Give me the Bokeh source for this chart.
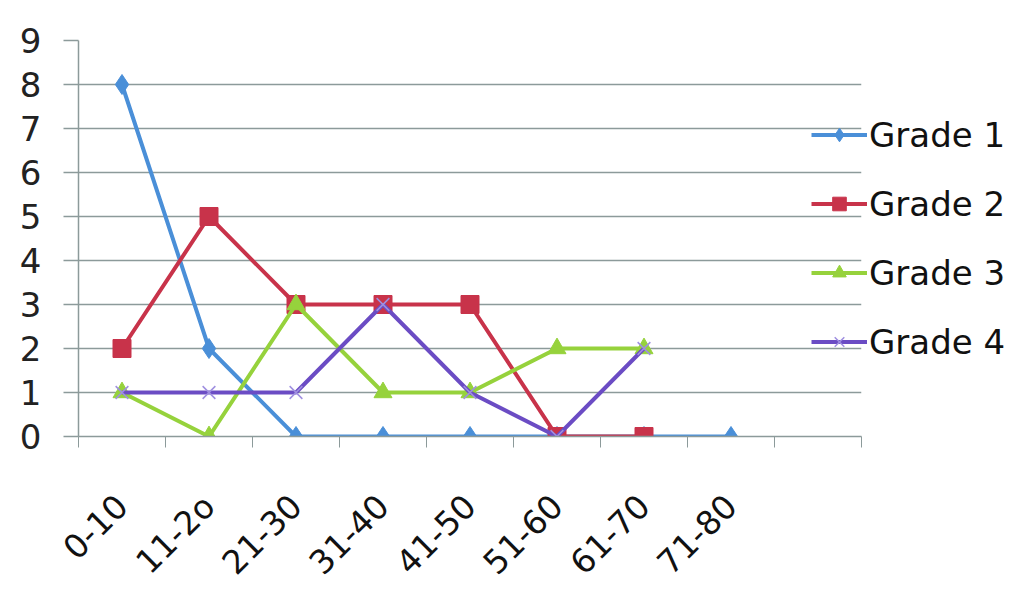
from bokeh.plotting import figure
from bokeh.models import FixedTicker, Legend, LegendItem
from bokeh.embed import file_html
from bokeh.resources import INLINE
import math

categories = ["0-10", "11-2o", "21-30", "31-40", "41-50", "51-60", "61-70", "71-80", ""]
grade1 = [8, 2, 0, 0, 0, 0, 0, 0]
grade2 = [2, 5, 3, 3, 3, 0, 0]
grade3 = [1, 0, 3, 1, 1, 2, 2]
grade4 = [1, 1, 1, 3, 1, 0, 2]
series_names = ["Grade 1", "Grade 2", "Grade 3", "Grade 4"]
y_ticks = list(range(0, 10))

FONT = "DejaVu Sans"
colors = ["#4A8FD8", "#C8334A", "#96D23C", "#6B4CC4"]
markers = ["diamond", "square", "triangle", "x"]
msizes = [20, 18, 18, 18]

p = figure(frame_width=783, frame_height=396, output_backend="svg", toolbar_location=None,
           x_range=(0, len(categories)), y_range=(0, 9),
           min_border_left=78, min_border_right=166, min_border_top=40, min_border_bottom=150)
p.outline_line_color = None
p.background_fill_color = "white"
p.border_fill_color = "white"

centers = [i + 0.5 for i in range(len(categories))]
p.xaxis.ticker = FixedTicker(ticks=centers, minor_ticks=list(range(len(categories) + 1)))
p.xaxis.major_label_overrides = {c: lab for c, lab in zip(centers, categories)}
p.xaxis.major_tick_out = 0
p.xaxis.major_tick_in = 0
p.xaxis.minor_tick_out = 11
p.xaxis.minor_tick_in = 0
p.xaxis.minor_tick_line_color = "#8C9A9A"
p.xaxis.axis_line_color = "#8C9A9A"
p.xaxis.axis_line_width = 1.5
p.xaxis.major_label_orientation = math.pi / 4
p.xaxis.major_label_text_font = FONT
p.xaxis.major_label_text_font_size = "33px"
p.xaxis.major_label_text_color = "#111111"
p.xaxis.major_label_standoff = 53
p.xgrid.grid_line_color = None

p.yaxis.ticker = FixedTicker(ticks=y_ticks)
p.yaxis.minor_tick_line_color = None
p.yaxis.major_tick_out = 15
p.yaxis.major_tick_in = 0
p.yaxis.major_tick_line_color = "#8C9A9A"
p.yaxis.major_tick_line_width = 1.5
p.yaxis.axis_line_color = "#8C9A9A"
p.yaxis.axis_line_width = 1.5
p.yaxis.major_label_text_font = FONT
p.yaxis.major_label_text_font_size = "34px"
p.yaxis.major_label_text_color = "#222222"
p.yaxis.major_label_standoff = 22
p.ygrid.grid_line_color = "#8C9A9A"
p.ygrid.grid_line_width = 1.5

items = []
for name, vals, col, mk, ms in zip(series_names, [grade1, grade2, grade3, grade4], colors, markers, msizes):
    xs = centers[:len(vals)]
    r1 = p.line(xs, vals, line_color=col, line_width=4)
    if mk == "x":
        r2 = p.scatter(xs, vals, marker=mk, size=ms, line_color="#9F8FE0", line_width=1.5)
    else:
        r2 = p.scatter(xs, vals, marker=mk, size=ms, fill_color=col, line_color=col)
    items.append(LegendItem(label=name, renderers=[r1, r2]))

legend = Legend(items=items, location="center_left", label_text_font=FONT,
                label_text_font_size="34px", label_text_color="#111111",
                glyph_width=56, glyph_height=34, label_height=34, spacing=29,
                label_standoff=2, padding=0, margin=-50,
                border_line_color=None, background_fill_alpha=0)
p.add_layout(legend, "right")

open("out.html", "w").write(file_html(p, INLINE))
